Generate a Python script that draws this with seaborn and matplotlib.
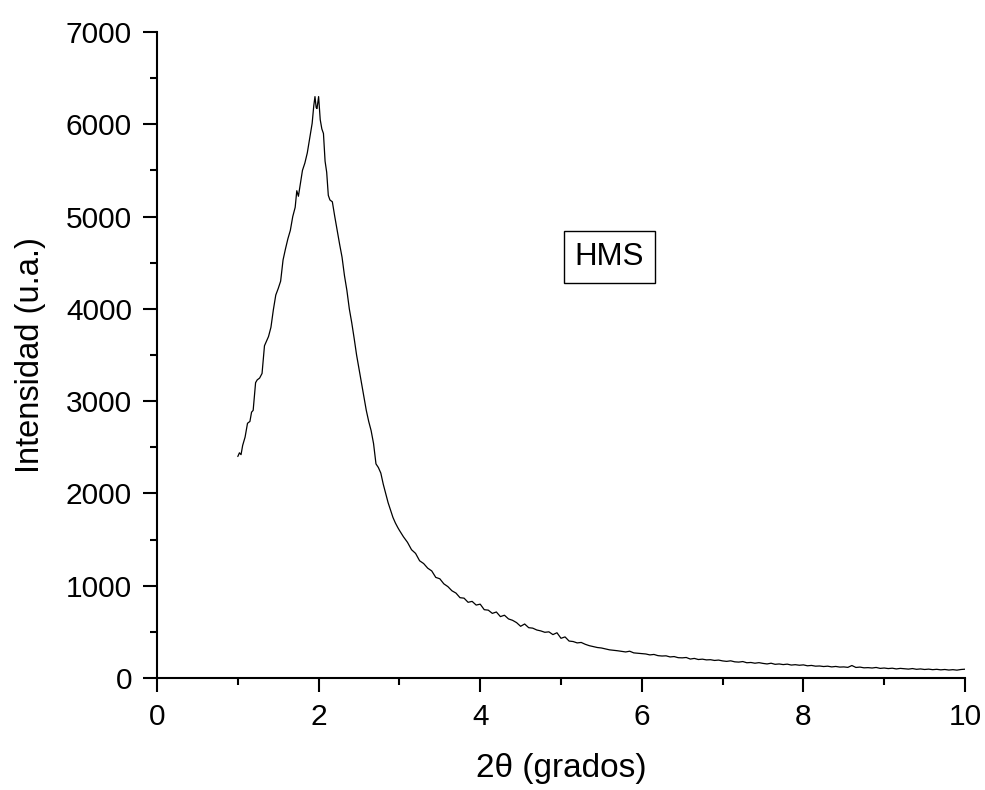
import numpy as np
import pandas as pd
import matplotlib
matplotlib.use("Agg")
import matplotlib.pyplot as plt
import seaborn as sns
from matplotlib.ticker import MultipleLocator

# --- data (2theta, intensity) ---
two_theta_peak = [1.00, 1.02, 1.04, 1.06, 1.09, 1.12, 1.15, 1.17, 1.19, 1.22, 1.24, 1.27, 1.30,
                  1.33, 1.35, 1.38, 1.41, 1.44, 1.47, 1.50, 1.53, 1.56, 1.59, 1.62, 1.65, 1.68,
                  1.71, 1.73, 1.75, 1.77, 1.80, 1.83, 1.86, 1.89, 1.92, 1.94, 1.955, 1.97, 1.98,
                  2.00, 2.02, 2.04, 2.06, 2.08, 2.10, 2.12, 2.14, 2.17, 2.20, 2.23, 2.26, 2.29,
                  2.32, 2.35, 2.38, 2.41, 2.44, 2.47, 2.50, 2.53, 2.56, 2.59, 2.62, 2.65, 2.68,
                  2.71, 2.74, 2.77, 2.80, 2.83, 2.86, 2.89, 2.92, 2.95, 2.98]
intensity_peak = [2400, 2440, 2420, 2520, 2610, 2760, 2780, 2880, 2900, 3200, 3230, 3250, 3300,
                  3600, 3640, 3700, 3800, 3990, 4150, 4220, 4300, 4530, 4650, 4760, 4850, 5000,
                  5100, 5280, 5220, 5330, 5500, 5580, 5690, 5850, 6010, 6200, 6300, 6180, 6170,
                  6300, 6050, 5950, 5900, 5600, 5480, 5230, 5180, 5160, 5000, 4850, 4700, 4560,
                  4360, 4200, 4000, 3850, 3680, 3500, 3350, 3200, 3050, 2900, 2780, 2680, 2540,
                  2320, 2280, 2220, 2100, 2000, 1900, 1820, 1740, 1680, 1630]

two_theta_tail = [3.00, 3.05, 3.10, 3.15, 3.20, 3.25, 3.30, 3.35, 3.40, 3.45, 3.50, 3.55, 3.60,
                  3.65, 3.70, 3.75, 3.80, 3.85, 3.90, 3.95, 4.00, 4.05, 4.10, 4.15, 4.20, 4.25,
                  4.30, 4.35, 4.40, 4.45, 4.50, 4.55, 4.60, 4.65, 4.70, 4.75, 4.80, 4.85, 4.90,
                  4.95, 5.00, 5.05, 5.10, 5.15, 5.20, 5.25, 5.30, 5.35, 5.40, 5.45, 5.50, 5.55,
                  5.60, 5.65, 5.70, 5.75, 5.80, 5.85, 5.90, 5.95, 6.00, 6.05, 6.10, 6.15, 6.20,
                  6.25, 6.30, 6.35, 6.40, 6.45, 6.50, 6.55, 6.60, 6.65, 6.70, 6.75, 6.80, 6.85,
                  6.90, 6.95, 7.00, 7.05, 7.10, 7.15, 7.20, 7.25, 7.30, 7.35, 7.40, 7.45, 7.50,
                  7.55, 7.60, 7.65, 7.70, 7.75, 7.80, 7.85, 7.90, 7.95, 8.00, 8.05, 8.10, 8.15,
                  8.20, 8.25, 8.30, 8.35, 8.40, 8.45, 8.50, 8.55, 8.60, 8.65, 8.70, 8.75, 8.80,
                  8.85, 8.90, 8.95, 9.00, 9.05, 9.10, 9.15, 9.20, 9.25, 9.30, 9.35, 9.40, 9.45,
                  9.50, 9.55, 9.60, 9.65, 9.70, 9.75, 9.80, 9.85, 9.90, 9.95, 10.00]
intensity_tail = [1600, 1530, 1470, 1390, 1350, 1270, 1240, 1190, 1160, 1090, 1075, 1020, 990,
                  945, 920, 870, 865, 820, 830, 790, 800, 740, 735, 700, 715, 665,
                  680, 640, 625, 600, 560, 585, 545, 540, 520, 510, 495, 500, 470,
                  490, 430, 445, 400, 395, 380, 385, 365, 350, 340, 330, 325, 315,
                  305, 300, 295, 288, 282, 290, 272, 268, 265, 260, 250, 255, 242,
                  238, 240, 228, 232, 220, 218, 222, 205, 212, 200, 204, 196, 198,
                  190, 194, 185, 180, 186, 175, 172, 178, 165, 168, 160, 166, 158,
                  152, 160, 148, 152, 145, 150, 140, 144, 138, 142, 132, 136, 128,
                  130, 124, 128, 120, 125, 118, 120, 115, 135, 114, 118, 110, 112,
                  108, 114, 104, 108, 102, 106, 98, 104, 100, 96, 102, 94, 98,
                  92, 96, 90, 94, 88, 92, 86, 90, 85, 92, 95]

label_text = "HMS"
x_label = "2θ (grados)"
y_label = "Intensidad (u.a.)"

df = pd.DataFrame({"x": two_theta_peak + two_theta_tail,
                   "y": intensity_peak + intensity_tail})

sns.set_style("ticks")
plt.rcParams["font.family"] = ["Liberation Sans", "DejaVu Sans"]

fig = plt.figure(figsize=(9.85, 7.9), dpi=100)
ax = fig.add_axes([0.1594, 0.1418, 0.8203, 0.8177])

sns.lineplot(data=df, x="x", y="y", ax=ax, color="black", linewidth=0.9,
             sort=False, estimator=None)

ax.set_xlim(0, 10)
ax.set_ylim(0, 7000)
ax.xaxis.set_major_locator(MultipleLocator(2))
ax.xaxis.set_minor_locator(MultipleLocator(1))
ax.yaxis.set_major_locator(MultipleLocator(1000))
ax.yaxis.set_minor_locator(MultipleLocator(500))

for s in ["top", "right"]:
    ax.spines[s].set_visible(False)
for s in ["left", "bottom"]:
    ax.spines[s].set_linewidth(1.5)
    ax.spines[s].set_color("black")

ax.tick_params(which="major", direction="out", length=10, width=1.5, labelsize=21.5,
               pad=8, colors="black")
ax.tick_params(which="minor", direction="out", length=5, width=1.5, colors="black")

ax.set_xlabel(x_label, fontsize=24, labelpad=16, color="black")
ax.set_ylabel(y_label, fontsize=23.5, labelpad=14, color="black")

ax.text(5.6, 4560, label_text, fontsize=22.5, ha="center", va="center", color="black",
        bbox=dict(boxstyle="square,pad=0.35", facecolor="white", edgecolor="black",
                  linewidth=1.0))

fig.savefig("out.png", dpi=100)
